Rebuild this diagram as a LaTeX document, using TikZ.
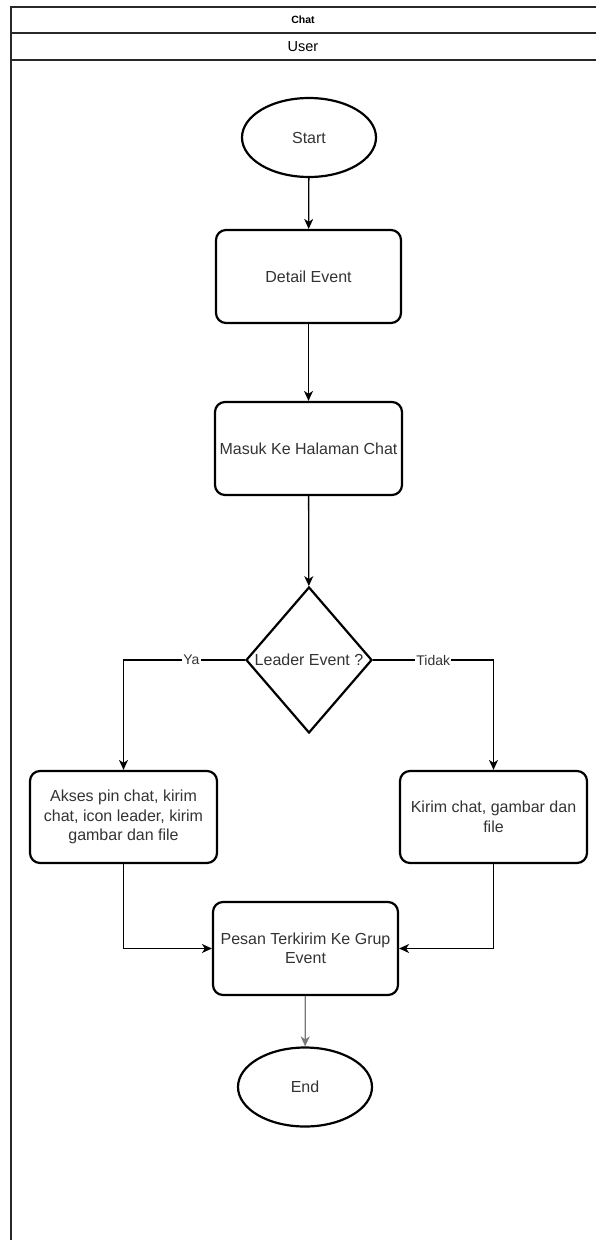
\documentclass[tikz,border=0pt]{standalone}
\usepackage{fontspec}
\setmainfont{Liberation Sans}
\usetikzlibrary{shapes.geometric,arrows.meta}
\definecolor{txt}{RGB}{51,51,51}
\definecolor{lane}{RGB}{40,40,40}
\definecolor{endline}{RGB}{120,120,120}
\begin{document}
\begin{tikzpicture}[x=1pt,y=-1pt,
  every node/.style={font=\fontsize{16}{19.5}\selectfont, text=txt},
  proc/.style={draw=black, line width=2.2pt, rounded corners=10pt, rectangle,
    align=center, inner sep=3pt, minimum width=186pt, minimum height=93pt},
  term/.style={draw=black, line width=2.2pt, ellipse, inner sep=0pt,
    minimum width=134pt, minimum height=79pt},
  flow/.style={line width=1.3pt, -{Stealth[length=10pt,width=9pt,inset=3pt]}},
  edgelabel/.style={font=\fontsize{14}{16}\selectfont, fill=white, inner sep=1pt}
]
\useasboundingbox (0,0) rectangle (595,1240);

% pool and lane headers
\draw[lane, line width=1.4pt] (600,7) -- (11,7) -- (11,1245);
\draw[lane, line width=1.4pt] (11,33) -- (600,33);
\draw[lane, line width=1.4pt] (11,60) -- (600,60);
\node[font=\bfseries\fontsize{10.5}{12}\selectfont, text=black] (pooltitle) at (303,20) {Chat};
\node[font=\fontsize{14.5}{16}\selectfont, text=black] (lanetitle) at (303,47) {User};

% flow nodes
\node[term] (start) at (309,137.5) {Start};
\node[proc, minimum width=185pt] (detail) at (308.5,276.5) {Detail Event};
\node[proc, minimum width=187pt] (masuk) at (308.5,448.5) {Masuk Ke Halaman Chat};
\node[draw=black, line width=2.2pt, diamond, inner sep=0pt,
      minimum width=126pt, minimum height=146pt,
      label={[font=\fontsize{16}{19.5}\selectfont, text=txt]center:Leader Event ?}]
      (dec) at (309,660) {};
\node[proc, minimum width=187pt, minimum height=92pt] (akses) at (123.5,817)
  {Akses pin chat, kirim\\chat, icon leader, kirim\\gambar dan file};
\node[proc, minimum width=187pt, minimum height=92pt] (kirim) at (493.5,817)
  {Kirim chat, gambar dan\\file};
\node[proc, minimum width=185pt] (pesan) at (305.5,948.5)
  {Pesan Terkirim Ke Grup\\Event};
\node[term] (end) at (305,1087) {End};

% connectors
\draw[flow] (start) -- (detail);
\draw[flow] (detail) -- (masuk);
\draw[flow] (masuk) -- (dec);
\draw[flow] (dec.west) -| node[edgelabel, pos=0.22] {Ya} (akses.north);
\draw[flow] (dec.east) -| node[edgelabel, pos=0.25] {Tidak} (kirim.north);
\draw[flow] (akses.south) |- (pesan.west);
\draw[flow] (kirim.south) |- (pesan.east);
\draw[flow, draw=endline] (pesan) -- (end);
\end{tikzpicture}
\end{document}
